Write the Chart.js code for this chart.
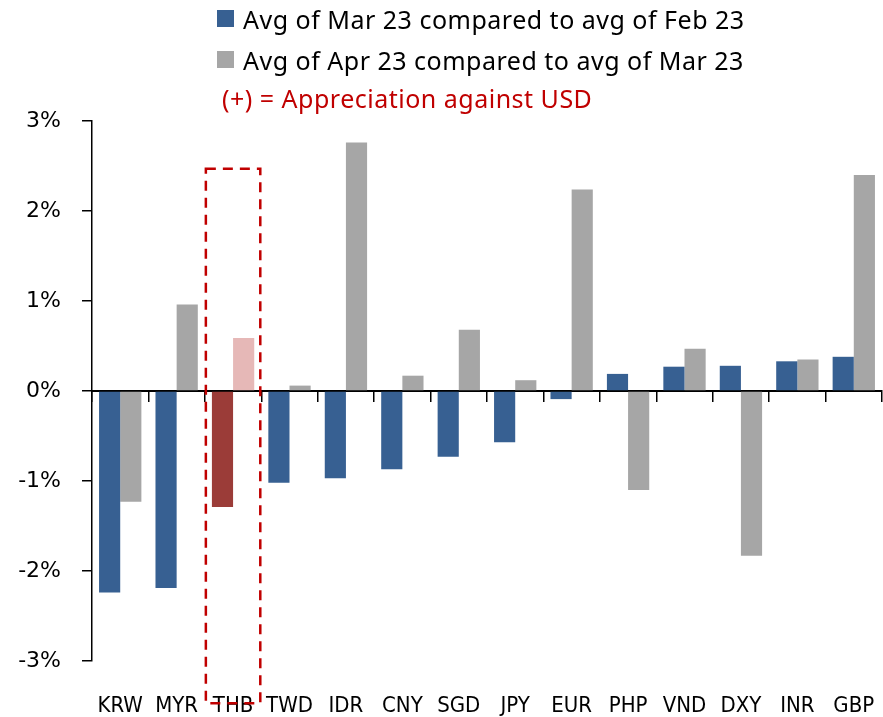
<!DOCTYPE html>
<html>
<head>
<meta charset="utf-8">
<script src="https://cdn.jsdelivr.net/npm/chart.js@4.4.0/dist/chart.umd.min.js"></script>
<style>
  body { margin: 0; background: #fff; }
  #wrap { position: relative; width: 883px; height: 717px; }
  #legend { position: absolute; left: 217px; top: -2px; font-family: "Noto Sans", sans-serif; font-size: 25px; letter-spacing: 0.5px; color: #000; }
  #legend .row { display: flex; align-items: center; height: 41px; }
  #legend .box { width: 17px; height: 17px; margin-right: 9px; }
  #legend .note { color: #c00000; margin-left: 5px; height: 36px; line-height: 36px; }
</style>
</head>
<body>
<div id="wrap">
  <canvas id="myChart" width="883" height="717"></canvas>
  <div id="legend"></div>
</div>
<script>
// currencies on the x axis
const currencies = ['KRW', 'MYR', 'THB', 'TWD', 'IDR', 'CNY', 'SGD', 'JPY', 'EUR', 'PHP', 'VND', 'DXY', 'INR', 'GBP'];

// % change
const marVsFeb = [-2.24, -2.19, -1.29, -1.02, -0.97, -0.87, -0.73, -0.57, -0.09, 0.19, 0.27, 0.28, 0.33, 0.38];
const aprVsMar = [-1.23, 0.96, 0.59, 0.06, 2.76, 0.17, 0.68, 0.12, 2.24, -1.10, 0.47, -1.83, 0.35, 2.40];

const seriesNames = ['Avg of Mar 23 compared to avg of Feb 23', 'Avg of Apr 23 compared to avg of Mar 23'];
const noteText = '(+) = Appreciation against USD';

// highlighted currency and dashed box extent (in % units)
const highlight = 'THB';
const boxTop = 2.47;
const boxBottom = -3.47;

const blue = '#376092', grey = '#a6a6a6';
const red = '#9b3c38', pink = '#e6b8b7';

const highlightBox = {
    id: 'highlightBox',
    afterDraw(chart) {
        const x = chart.scales.x, y = chart.scales.y;
        const i = currencies.indexOf(highlight);
        const half = (x.getPixelForValue(1) - x.getPixelForValue(0)) / 2;
        const cx = x.getPixelForValue(i);
        const ctx = chart.ctx;
        ctx.save();
        ctx.strokeStyle = '#c00000';
        ctx.lineWidth = 2.5;
        ctx.setLineDash([10, 7]);
        ctx.strokeRect(cx - half + 1, y.getPixelForValue(boxTop), half * 2 - 2, y.getPixelForValue(boxBottom) - y.getPixelForValue(boxTop));
        ctx.restore();
    }
};

const ctx = document.getElementById('myChart').getContext('2d');
const myChart = new Chart(ctx, {
    type: 'bar',
    data: {
        labels: currencies,
        datasets: [{
            label: seriesNames[0],
            data: marVsFeb,
            backgroundColor: currencies.map(c => c === highlight ? red : blue),
            legendColor: blue
        }, {
            label: seriesNames[1],
            data: aprVsMar,
            backgroundColor: currencies.map(c => c === highlight ? pink : grey),
            legendColor: grey
        }]
    },
    options: {
        responsive: false,
        animation: false,
        categoryPercentage: 0.75,
        barPercentage: 1,
        layout: { padding: { top: 121, right: 1, left: 0, bottom: 0 } },
        plugins: {
            legend: { display: false },
            tooltip: { enabled: false }
        },
        scales: {
            x: {
                position: 'bottom',
                // grid hidden, tick length only pushes the labels down
                grid: { display: false, drawTicks: true, tickLength: 30 },
                border: { display: false },
                afterFit: s => { s.height = 56; },
                ticks: {
                    color: '#000',
                    padding: 2,
                    maxRotation: 0,
                    autoSkip: false,
                    font: { family: '"Liberation Sans Narrow", "DejaVu Sans Condensed", sans-serif', size: 22 }
                }
            },
            x2: {
                type: 'category',
                labels: currencies,
                position: { y: 0 },
                offset: true,
                grid: { offset: true, drawOnChartArea: false, drawTicks: true, tickLength: 10, color: '#000', lineWidth: 1.5 },
                border: { display: true, color: '#000', width: 2 },
                ticks: { display: false }
            },
            y: {
                min: -3,
                max: 3,
                afterFit: s => { s.width = 92; },
                grid: { drawOnChartArea: false, drawTicks: true, tickLength: 10, color: '#000', lineWidth: 1.5 },
                border: { display: true, color: '#000', width: 1.5 },
                ticks: {
                    stepSize: 1,
                    color: '#000',
                    padding: 21,
                    font: { family: '"DejaVu Sans", sans-serif', size: 22 },
                    callback: v => v + '%'
                }
            }
        }
    },
    plugins: [highlightBox]
});

// legend above the chart
const legend = document.getElementById('legend');
myChart.data.datasets.forEach(ds => {
    const row = document.createElement('div');
    row.className = 'row';
    row.innerHTML = '<span class="box" style="background:' + ds.legendColor + '"></span><span>' + ds.label + '</span>';
    legend.appendChild(row);
});
const note = document.createElement('div');
note.className = 'note';
note.innerText = noteText;
legend.appendChild(note);
</script>
</body>
</html>
